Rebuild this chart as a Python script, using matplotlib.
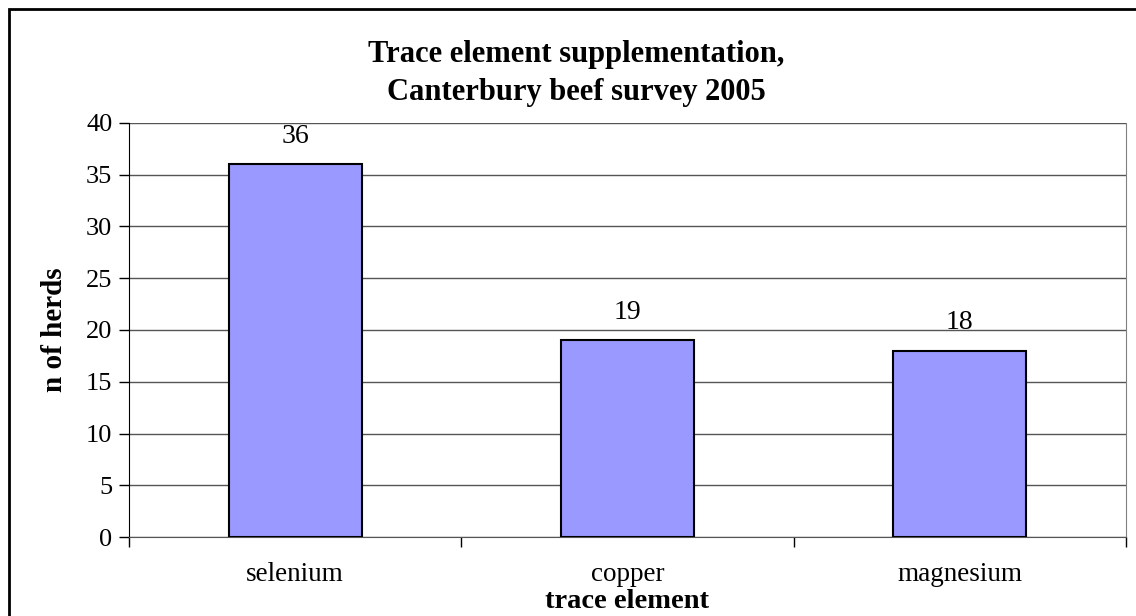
import matplotlib
matplotlib.use("Agg")
import matplotlib.pyplot as plt
from matplotlib.patches import Rectangle

plt.rcParams['font.family'] = ['Liberation Serif', 'DejaVu Serif']

# data
elements = ["selenium", "copper", "magnesium"]
herds = [36, 19, 18]
y_ticks = [0, 5, 10, 15, 20, 25, 30, 35, 40]

W, H = 1136, 616
fig = plt.figure(figsize=(W / 100, H / 100), dpi=100)
ax = fig.add_axes([129 / W, 1 - 537 / H, (1126 - 129) / W, (537 - 123) / H])

# outer chart border (cut off at right and bottom like the original)
fig.patches.append(Rectangle((9 / W, -0.05), 1.1, 1 - 9 / H + 0.05,
                             transform=fig.transFigure, fill=False,
                             edgecolor='black', linewidth=2))

x = list(range(len(elements)))
bars = ax.bar(x, herds, width=0.4, color='#9999FF', edgecolor='black', linewidth=1.5, zorder=3)
for b, v in zip(bars, herds):
    ax.text(b.get_x() + b.get_width() / 2, v + 2.1, str(v), ha='center', va='baseline', fontsize=20)

ax.set_xlim(-0.5, len(elements) - 0.5)
ax.set_ylim(0, 40)
ax.set_yticks(y_ticks)
ax.tick_params(axis='y', labelsize=19, length=7, width=1, direction='out', pad=5)
ax.yaxis.grid(True, color='#555555', linewidth=1, zorder=0)

ax.set_xticks(x)
ax.set_xticklabels(elements, fontsize=19.5)
ax.tick_params(axis='x', length=0, pad=18)
ax.set_xticks([-0.5, 0.5, 1.5, 2.5], minor=True)
ax.tick_params(axis='x', which='minor', length=7, width=1)

ax.spines['top'].set_visible(False)
ax.spines['right'].set_color('#808080')
ax.spines['left'].set_color('black')
ax.spines['bottom'].set_color('#555555')

# axis titles placed like the original
fig.text(627 / W, 1 - 608 / H, "trace element", ha='center', va='baseline',
         fontsize=20.5, fontweight='bold')
fig.text(54 / W, 1 - 330 / H, "n of herds", ha='center', va='center', rotation=90,
         fontsize=21, fontweight='bold')

fig.text(576 / W, 1 - 62 / H, "Trace element supplementation,", ha='center', va='baseline',
         fontsize=22, fontweight='bold')
fig.text(576 / W, 1 - 100 / H, "Canterbury beef survey 2005", ha='center', va='baseline',
         fontsize=22, fontweight='bold')

fig.savefig("out.png", dpi=100)
